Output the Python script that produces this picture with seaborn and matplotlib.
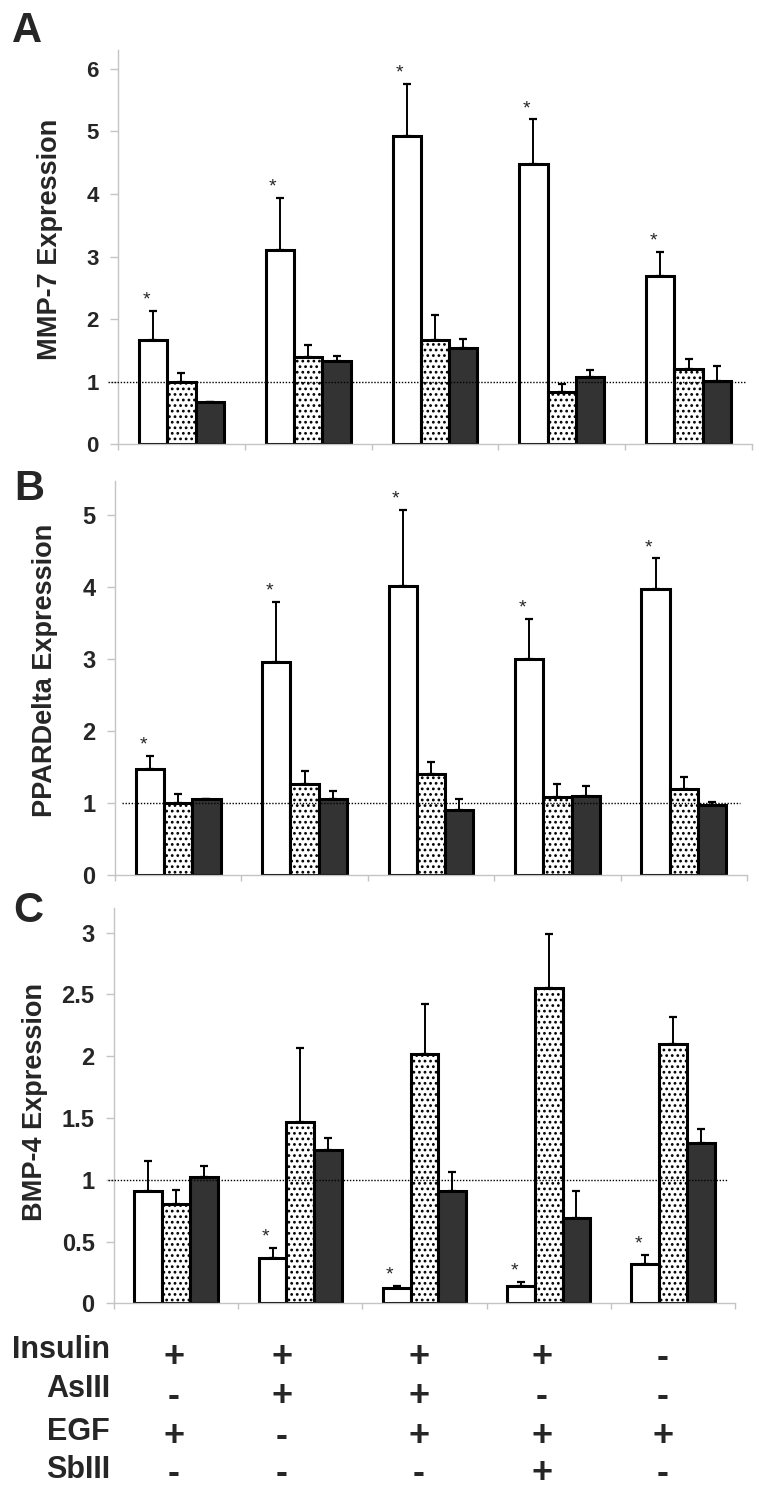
import numpy as np
import pandas as pd
import matplotlib
matplotlib.use('Agg')
import matplotlib.pyplot as plt
import seaborn as sns

# ---- data ----
conditions = ['Ins+EGF', 'Ins+AsIII', 'Ins+AsIII+EGF', 'Ins+EGF+SbIII', 'EGF']
series = ['open', 'dotted', 'solid']

mmp7_open = [1.67, 3.11, 4.93, 4.48, 2.69]
mmp7_open_err = [0.46, 0.83, 0.83, 0.71, 0.39]
mmp7_dot = [1.00, 1.39, 1.67, 0.83, 1.20]
mmp7_dot_err = [0.14, 0.20, 0.39, 0.13, 0.17]
mmp7_solid = [0.67, 1.33, 1.54, 1.07, 1.02]
mmp7_solid_err = [0.00, 0.08, 0.15, 0.12, 0.23]
mmp7_star = [True, True, True, True, True]

ppard_open = [1.47, 2.96, 4.02, 3.00, 3.97]
ppard_open_err = [0.19, 0.84, 1.05, 0.56, 0.43]
ppard_dot = [1.00, 1.26, 1.41, 1.09, 1.20]
ppard_dot_err = [0.13, 0.18, 0.16, 0.18, 0.16]
ppard_solid = [1.05, 1.06, 0.91, 1.10, 0.97]
ppard_solid_err = [0.01, 0.11, 0.14, 0.14, 0.05]
ppard_star = [True, True, True, True, True]

bmp4_open = [0.91, 0.37, 0.12, 0.14, 0.32]
bmp4_open_err = [0.24, 0.08, 0.02, 0.035, 0.07]
bmp4_dot = [0.80, 1.47, 2.02, 2.55, 2.10]
bmp4_dot_err = [0.12, 0.60, 0.40, 0.44, 0.22]
bmp4_solid = [1.02, 1.24, 0.91, 0.69, 1.30]
bmp4_solid_err = [0.09, 0.10, 0.15, 0.22, 0.11]
bmp4_star = [False, True, True, True, True]

treatments = ['Insulin', 'AsIII', 'EGF', 'SbIII']
insulin = ['+', '+', '+', '+', '-']
as3 = ['-', '+', '+', '-', '-']
egf = ['+', '-', '+', '+', '+']
sb3 = ['-', '-', '-', '+', '-']

# ---- style ----
sns.set_style('white')
plt.rcParams['font.family'] = ['Liberation Sans', 'DejaVu Sans']
plt.rcParams['hatch.linewidth'] = 1.2

W, H = 759, 1489
fig = plt.figure(figsize=(W / 100, H / 100), dpi=100)

def px_rect(left, right, top, bottom):
    return [left / W, 1 - bottom / H, (right - left) / W, (bottom - top) / H]

panels = [
    dict(rect=px_rect(118, 752, 50, 444.4), vals=[mmp7_open, mmp7_dot, mmp7_solid],
         errs=[mmp7_open_err, mmp7_dot_err, mmp7_solid_err], stars=mmp7_star,
         ylabel='MMP-7 Expression', ylim=6.3, yticks=[0, 1, 2, 3, 4, 5, 6],
         yticklabels=['0', '1', '2', '3', '4', '5', '6'], tsize=16,
         line=(-0.016, 0.989), lab=(-0.0875, 0.521), letter='A', lpos=(12, 42)),
    dict(rect=px_rect(115, 747, 480.7, 875), vals=[ppard_open, ppard_dot, ppard_solid],
         errs=[ppard_open_err, ppard_dot_err, ppard_solid_err], stars=ppard_star,
         ylabel='PPARDelta Expression', ylim=5.48, yticks=[0, 1, 2, 3, 4, 5],
         yticklabels=['0', '1', '2', '3', '4', '5'], tsize=17,
         line=(0.011, 0.989), lab=(-0.0894, 0.52), letter='B', lpos=(14, 500)),
    dict(rect=px_rect(114, 735, 908, 1303.3), vals=[bmp4_open, bmp4_dot, bmp4_solid],
         errs=[bmp4_open_err, bmp4_dot_err, bmp4_solid_err], stars=bmp4_star,
         ylabel='BMP-4 Expression', ylim=3.2, yticks=[0, 0.5, 1, 1.5, 2, 2.5, 3],
         yticklabels=['0', '0.5', '1', '1.5', '2', '2.5', '3'], tsize=17,
         line=(-0.01, 0.989), lab=(-0.107, 0.509), letter='C', lpos=(13, 922)),
]

spine_col = '#c4c4c4'

for p in panels:
    ax = fig.add_axes(p['rect'])
    rows = []
    for s, v in zip(series, p['vals']):
        for c, val in zip(conditions, v):
            rows.append({'condition': c, 'series': s, 'value': val})
    df = pd.DataFrame(rows)

    sns.barplot(data=df, x='condition', y='value', hue='series', order=conditions,
                hue_order=series, palette=['white', 'white', '#333333'], saturation=1,
                edgecolor='black', linewidth=2.2, width=0.67, gap=0, errorbar=None,
                legend=False, ax=ax)

    for patch in ax.containers[1]:
        patch.set_hatch('...')

    # one-sided error bars
    for cont, v, e in zip(ax.containers, p['vals'], p['errs']):
        xs = [b.get_x() + b.get_width() / 2 for b in cont]
        ax.errorbar(xs, v, yerr=[np.zeros(len(e)), e], fmt='none', ecolor='black',
                    elinewidth=1.4, capsize=3, capthick=1.6, zorder=3)

    # significance stars over open bars
    for b, v, e, flag in zip(ax.containers[0], p['vals'][0], p['errs'][0], p['stars']):
        if flag:
            ax.annotate('*', xy=(b.get_x() + b.get_width() / 2, v + e),
                        xytext=(-5, 4.5), textcoords='offset points',
                        ha='center', va='baseline', fontsize=14)

    # reference line at 1
    ax.axhline(1, xmin=p['line'][0], xmax=p['line'][1], color='black',
               ls=(0, (1, 1.2)), lw=1.0, clip_on=False, zorder=4)

    ax.set_xlim(-0.5, len(conditions) - 0.5)
    ax.set_ylim(0, p['ylim'])
    ax.set_xticks(np.arange(len(conditions) + 1) - 0.5)
    ax.set_xticklabels([])
    ax.set_xlabel('')
    ax.set_yticks(p['yticks'])
    ax.set_yticklabels(p['yticklabels'], fontsize=p['tsize'], fontweight='bold')
    ax.tick_params(axis='y', direction='out', length=6, width=1, color=spine_col,
                   pad=8, left=True)
    ax.tick_params(axis='x', direction='out', length=4.5, width=1, color=spine_col,
                   bottom=True)
    for side in ['top', 'right']:
        ax.spines[side].set_visible(False)
    for side in ['left', 'bottom']:
        ax.spines[side].set_color(spine_col)
        ax.spines[side].set_linewidth(1)

    ax.set_ylabel(p['ylabel'], fontsize=19.5, fontweight='bold')
    ax.yaxis.set_label_coords(*p['lab'])

    fig.text(p['lpos'][0] / W, 1 - p['lpos'][1] / H, p['letter'], fontsize=30,
             fontweight='bold', ha='left', va='baseline')

# ---- treatment table ----
label_base = [1358, 1397, 1440, 1478]
sign_center = [1355, 1394, 1434, 1471]
col_x = [174, 282, 419, 542, 663]
for name, signs, yb, yc in zip(treatments, [insulin, as3, egf, sb3], label_base, sign_center):
    fig.text(110 / W, 1 - yb / H, name, fontsize=22, fontweight='bold',
             ha='right', va='baseline')
    for x, s in zip(col_x, signs):
        fig.text(x / W, 1 - (yc + 12) / H, s, fontsize=26, fontweight='bold',
                 ha='center', va='baseline')

fig.savefig('out.png', dpi=100)
